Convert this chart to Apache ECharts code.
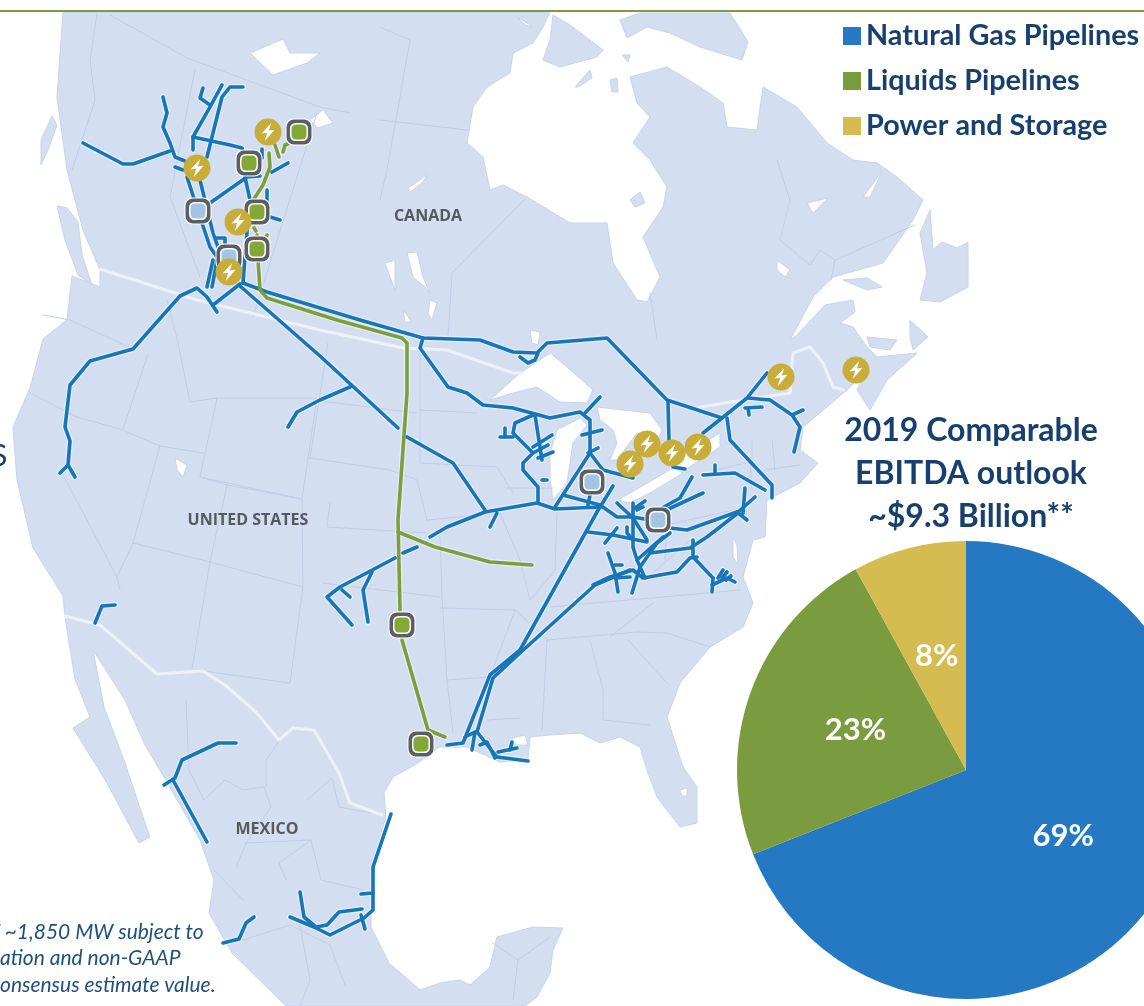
<!DOCTYPE html>
<html>
<head>
<meta charset="utf-8">
<title>Pipelines map</title>
<script src="https://cdn.jsdelivr.net/npm/echarts@6/dist/echarts.min.js"></script>
<style>
html,body{margin:0;padding:0;background:#fff;}
#main{width:1144px;height:1006px;}
</style>
</head>
<body>
<div id="main"></div>
<script>
// pie
var segmentNames = ['Natural Gas Pipelines', 'Liquids Pipelines', 'Power and Storage'];
var segmentValues = [69, 23, 8];
var titleLines = ['2019 Comparable', 'EBITDA outlook', '~$9.3 Billion**'];

// map shapes in picture pixels
var landShapes = [
  // mainland
  [[63,12],[550,12],[543,27],[533,43],[513,53],[510,73],[487,87],[473,107],[467,143],[483,157],[490,190],[503,185],[527,197],[570,223],[607,223],[613,263],[637,300],[647,302],[660,277],[643,237],[663,207],[667,187],[650,160],[633,143],[650,117],[637,103],[630,77],[667,67],[700,87],[723,103],[727,127],[757,130],[763,87],[797,107],[827,143],[853,160],[877,163],[897,177],[923,200],[913,220],[897,243],[883,263],[833,277],[813,297],[790,340],[797,335],[825,305],[853,300],[855,312],[840,323],[853,327],[867,347],[877,357],[917,353],[887,380],[870,410],[857,390],[867,370],[847,390],[803,427],[800,450],[818,463],[800,483],[767,500],[765,537],[753,540],[743,577],[753,603],[743,627],[710,647],[680,683],[667,717],[683,767],[697,787],[697,823],[680,827],[657,797],[647,770],[640,747],[620,737],[600,743],[580,733],[550,735],[530,737],[528,760],[500,762],[467,747],[439,747],[418,763],[393,777],[384,793],[386,817],[371,867],[371,927],[389,963],[420,990],[440,983],[460,980],[470,985],[490,967],[497,937],[533,927],[563,928],[553,950],[550,973],[537,997],[525,1006],[286,1006],[232,953],[209,913],[214,880],[200,840],[164,777],[145,745],[125,700],[93,650],[104,707],[125,763],[143,817],[150,837],[139,843],[107,783],[73,728],[90,717],[75,679],[67,630],[65,616],[63,596],[33,548],[17,480],[13,427],[30,388],[43,339],[67,320],[72,276],[100,287],[100,270],[83,230],[67,170],[57,97]],
  // Vancouver Island, Haida Gwaii
  [[57,206],[67,208],[78,222],[82,255],[92,285],[78,275],[65,240]],
  [[52,116],[57,125],[48,150],[41,165],[41,140]],
  // Baffin, Southampton and small Hudson Bay islands
  [[620,20],[640,13],[730,13],[748,42],[742,60],[700,47],[670,33],[647,27],[627,38]],
  [[553,15],[570,25],[603,50],[597,57],[560,67],[543,60],[550,40]],
  [[575,87],[590,70],[592,78],[578,87]],
  [[610,80],[617,78],[618,92],[612,92]],
  [[622,55],[630,55],[628,62]],
  [[630,200],[640,192],[645,203],[635,207]],
  // Newfoundland, Anticosti, Cape Breton, PEI
  [[930,210],[920,233],[927,273],[920,300],[940,302],[968,287],[968,242],[957,248],[942,242],[933,250]],
  [[843,280],[867,278],[882,287],[867,290]],
  [[910,320],[928,337],[913,350],[910,337]],
  [[867,337],[897,340],[890,350],[870,347]]
];
var waterShapes = [
  // Superior, Michigan, Huron, Erie, Ontario
  [[490,400],[520,373],[550,353],[567,367],[593,390],[587,403],[560,402],[537,387],[513,393]],
  [[557,430],[580,418],[587,425],[573,443],[567,483],[553,500],[550,480],[550,453]],
  [[597,407],[650,413],[662,430],[657,443],[637,433],[617,460],[610,460],[617,443],[613,430],[600,420]],
  [[618,500],[673,468],[683,473],[650,493],[630,503]],
  [[672,465],[690,450],[720,433],[720,447],[700,460],[685,470]],
  // Canadian lakes
  [[407,253],[417,252],[423,277],[430,293],[425,287],[413,277]],
  [[385,263],[395,260],[395,290],[390,277]],
  [[430,300],[437,303],[432,320],[428,313]],
  [[403,310],[412,322],[405,322]],
  [[408,188],[427,175],[423,182],[410,192]],
  [[530,330],[540,332],[538,345],[532,343]],
  [[250,53],[283,39],[290,53],[320,53],[307,63],[273,75]],
  [[310,120],[323,110],[333,123],[318,128]],
  [[517,17],[527,23],[533,27],[525,25]],
  [[777,260],[790,270],[785,277],[777,270]],
  [[807,203],[828,198],[813,213]],
  [[863,197],[883,170],[870,197]],
  // Great Salt Lake, Okeechobee, Chesapeake, Pontchartrain
  [[175,458],[187,465],[183,477],[177,470]],
  [[680,790],[687,788],[687,796],[682,796]],
  [[733,537],[737,545],[738,565],[733,557]],
  [[512,738],[525,735],[528,745],[516,745]]
];
var boundaryLines = [
  [[110,15],[187,58],[320,107],[350,113]],[[380,27],[410,40],[387,170],[380,200]],[[380,120],[467,130]],
  [[97,14],[90,60],[95,100],[72,170]],[[448,337],[452,273],[527,197]],[[650,293],[657,340]],
  [[317,113],[253,317]],[[170,197],[200,277]],[[195,70],[170,197]],
  [[831,280],[835,260],[915,225]],[[777,160],[790,200],[780,240],[810,265],[820,250],[835,260]],
  [[43,315],[70,320],[133,349]],[[30,393],[77,417],[120,429],[160,446],[203,453]],[[148,354],[123,429]],
  [[167,300],[177,339],[183,368],[190,402],[217,398]],[[217,398],[200,477],[302,499],[317,398],[217,398]],
  [[160,446],[133,543]],[[200,477],[227,485],[210,562],[133,543]],[[63,475],[117,577],[120,590]],
  [[133,543],[117,577]],[[210,562],[192,669]],[[210,562],[303,587],[290,683],[203,671]],[[227,485],[302,499],[303,587]],
  [[328,343],[310,458]],[[313,400],[417,413]],[[310,458],[390,470],[417,480],[427,520]],[[330,503],[327,527],[427,533]],
  [[322,583],[440,597]],[[440,537],[442,597]],[[420,340],[420,410],[477,413]],[[420,410],[420,463],[497,467],[513,493]],
  [[427,520],[500,513]],[[507,488],[553,488]],[[557,513],[555,570],[530,600]],[[440,608],[515,610]],[[550,607],[740,590]],
  [[547,640],[542,730]],[[590,640],[603,690],[603,720],[650,725]],[[547,640],[637,632]],[[628,640],[667,683]],[[637,632],[667,633],[710,647]],
  [[610,637],[653,603]],[[447,680],[490,677]],[[515,610],[490,677]],[[447,680],[453,733]],[[487,720],[520,718]],
  [[442,597],[447,680]],[[500,513],[520,560],[530,600]],[[515,610],[548,640]],
  [[668,500],[665,560]],[[665,525],[735,510]],[[715,470],[750,462],[752,490]],[[752,440],[752,462]],[[772,440],[775,470]],[[765,470],[800,465]],[[645,580],[690,540]],
  [[186,700],[189,770],[204,800]],[[204,800],[225,780],[243,790],[264,787],[271,807],[246,843],[236,867]],
  [[282,737],[266,760],[266,787]],[[307,800],[332,778],[339,807],[371,813]],[[246,843],[311,840],[279,863],[286,880]],
  [[311,840],[321,880],[364,890]],[[214,870],[243,900]],[[243,940],[290,925],[330,945],[345,985]],[[300,925],[310,980],[300,1006]],
  [[493,943],[518,960],[550,937]],[[518,960],[513,1000]]
];
var borderLines = [
  [[100,269],[197,300],[320,330],[403,348],[447,350],[513,373],[522,373]],
  [[700,407],[743,400],[790,393],[793,353],[810,347],[823,363],[833,387],[843,390]],
  [[65,616],[100,625],[157,674],[203,671],[225,685],[257,713],[279,740],[293,728],[314,730],[339,773],[350,803],[382,815]]
];

// pipelines
var gasLines = [
  [[83,143],[123,164],[133,164],[170,151]],
  [[163,97],[167,113],[163,127],[170,143],[175,157],[185,161]],
  [[175,167],[183,170]],
  [[222,85],[210,107],[193,137],[193,150]],
  [[243,87],[230,87],[222,97],[207,157]],
  [[203,88],[200,98],[210,105]],
  [[193,137],[230,145],[242,148],[245,157]],
  [[187,177],[200,217],[210,247],[217,257]],
  [[200,180],[213,233],[220,253]],
  [[210,203],[247,177],[260,176]],
  [[245,177],[250,200]],
  [[272,172],[288,163]],
  [[262,149],[262,158]],
  [[267,190],[267,203]],
  [[270,217],[280,220]],
  [[248,220],[245,257],[243,283]],
  [[243,283],[267,292],[360,320],[423,338],[480,340],[513,352],[537,353],[547,343],[607,338],[667,400],[722,418],[747,398],[767,373]],
  [[520,357],[528,363],[535,360],[538,353]],
  [[240,286],[320,356],[398,428]],
  [[407,437],[453,463],[485,510]],
  [[288,427],[297,412],[320,400],[350,387]],
  [[240,284],[213,305]],
  [[217,312],[207,297],[197,288],[180,296],[133,349],[90,361],[70,385],[65,427],[70,441],[68,465]],
  [[60,473],[68,465],[75,477]],
  [[213,260],[207,287]],
  [[217,260],[212,287]],
  [[217,238],[225,238],[225,250]],
  [[95,623],[102,606],[115,605]],
  [[423,338],[420,348],[448,387],[467,393],[483,405],[513,408],[550,418],[580,412],[590,420],[590,453],[603,470],[633,478]],
  [[585,413],[600,397]],
  [[582,435],[602,430]],
  [[588,453],[598,448]],
  [[590,453],[555,507]],
  [[533,415],[515,423],[513,433],[533,453],[523,463],[523,470],[538,487],[538,503]],
  [[535,415],[542,460]],
  [[533,447],[552,435]],
  [[533,453],[548,445]],
  [[538,458],[553,452]],
  [[500,437],[513,437]],
  [[505,428],[505,437]],
  [[542,480],[547,480]],
  [[430,537],[447,527],[485,512],[537,503],[555,509],[600,507]],
  [[395,558],[340,587],[327,597],[352,625]],
  [[403,553],[417,547]],
  [[342,590],[350,597]],
  [[372,572],[363,590],[368,622]],
  [[497,513],[490,527]],
  [[563,495],[600,505],[617,517],[633,517],[650,520]],
  [[613,486],[597,512],[520,650],[490,675],[463,743],[447,745]],
  [[630,570],[595,585],[520,653],[493,678],[477,732],[497,757],[528,761]],
  [[465,737],[475,732],[472,750]],
  [[480,745],[487,742],[495,758]],
  [[498,752],[517,748]],
  [[512,742],[510,750]],
  [[617,503],[633,518],[647,540]],
  [[633,503],[633,547],[637,560],[645,578]],
  [[635,508],[645,501]],
  [[637,510],[643,507]],
  [[588,532],[613,535],[647,542]],
  [[605,543],[617,528]],
  [[627,527],[627,533],[633,540]],
  [[608,553],[615,573],[618,592]],
  [[615,565],[622,565]],
  [[615,578],[630,577]],
  [[593,585],[610,577],[633,570],[643,578],[677,572],[690,558],[697,557]],
  [[693,540],[693,557],[713,578]],
  [[632,593],[640,567],[657,543],[670,533]],
  [[637,560],[663,537]],
  [[650,553],[690,548],[707,537],[738,513]],
  [[670,528],[687,530],[737,512]],
  [[662,512],[703,493]],
  [[662,508],[680,498],[692,477]],
  [[737,512],[747,520]],
  [[745,488],[743,513]],
  [[755,497],[737,513]],
  [[713,578],[712,592]],
  [[712,585],[727,578],[735,582]],
  [[723,570],[718,578]],
  [[727,572],[722,578]],
  [[731,576],[726,580]],
  [[703,475],[735,473],[765,490]],
  [[715,465],[715,473]],
  [[668,402],[669,440]],
  [[727,418],[730,440],[772,485],[772,498]],
  [[703,433],[722,418]],
  [[748,398],[770,400],[792,415],[800,427],[794,452]],
  [[792,415],[803,410]],
  [[745,408],[762,407]],
  [[748,408],[749,415]],
  [[673,467],[685,469]],
  [[590,495],[588,505]],
  [[164,785],[175,778],[182,760],[218,743],[236,743]],
  [[173,780],[207,842]],
  [[223,943],[239,939],[246,923],[254,917]],
  [[391,814],[373,867],[373,910],[364,918],[330,935],[314,927],[290,917]],
  [[300,892],[304,917],[316,927],[327,925],[339,912],[362,909]],
  [[361,894],[373,893]],
  [[361,915],[365,929]]
];
var liquidsLines = [
  [[258,260],[260,290],[267,298],[337,320],[402,338],[407,343],[407,393],[398,520],[400,610]],
  [[398,532],[435,547],[490,562],[532,565]],
  [[402,640],[428,730],[445,737]],
  [[269,153],[270,167],[263,185],[252,202]],
  [[275,145],[279,157]],
  [[283,152],[285,145],[292,142]],
  [[254,228],[256,231]],
  [[257,235],[258,240]],
  [[267,235],[265,240]]
];

// sites
var powerSites = [[268,132],[197,168],[238,222],[229,272],[630,464],[647,444],[672,453],[698,447],[781,377],[856,370]];
var liquidsSites = [[299,132],[249,163],[257,212],[257,249],[402,625],[421,744]];
var gasSites = [[198,211],[229,257],[592,482],[658,520]];

var placeLabels = [['CANADA',428,216],['UNITED STATES',248,520],['MEXICO',267,829]];
var footnoteLines = ['f ~1,850 MW subject to', 'ation and non-GAAP', 'onsensus estimate value.'];

var blue = '#2479c2', green = '#7a9c3e', yellow = '#d5bc50', ink = '#17406f';
var pipeBlue = '#1676b8', pipeGreen = '#7b9f3a';
var boltPath = 'path://M15 0 L3 14 L10 13 L7 24 L19 9 L12 10 Z';
var boxPath = 'path://M6 0H14A6 6 0 0 1 20 6V14A6 6 0 0 1 14 20H6A6 6 0 0 1 0 14V6A6 6 0 0 1 6 0Z';

function polygons(shapes, fill, stroke, z) {
  return {
    type: 'custom',
    coordinateSystem: 'cartesian2d',
    silent: true,
    z: z,
    data: shapes.map(function (s, i) { return [i, i]; }),
    renderItem: function (params, api) {
      return {
        type: 'polygon',
        shape: {points: shapes[params.dataIndex].map(function (p) { return api.coord(p); })},
        style: {fill: fill, stroke: stroke, lineWidth: 1}
      };
    }
  };
}

function paths(list, color, width, z) {
  return {
    type: 'lines',
    coordinateSystem: 'cartesian2d',
    polyline: true,
    silent: true,
    z: z,
    lineStyle: {color: color, width: width, opacity: 1, cap: 'round', join: 'round'},
    data: list.map(function (l) { return {coords: l}; })
  };
}

function sites(list, symbol, size, color, z) {
  return {
    type: 'scatter',
    coordinateSystem: 'cartesian2d',
    silent: true,
    symbol: symbol,
    symbolSize: size,
    z: z,
    itemStyle: {color: color, opacity: 1},
    data: list
  };
}

var chart = echarts.init(document.getElementById('main'));
var textItems = placeLabels.map(function (p) {
  return {type: 'text', x: p[1], y: p[2], z: 50, style: {text: p[0], fill: '#55585c', font: 'bold 16px "Open Sans"', align: 'center', verticalAlign: 'middle'}};
});
footnoteLines.forEach(function (t, i) {
  textItems.push({type: 'text', x: [-7, 0, 0][i], y: 932 + i * 26.5, z: 50, style: {text: t, fill: '#1d4f80', font: 'italic 21px Lato', verticalAlign: 'middle'}});
});
textItems.push({type: 'text', x: -9, y: 456, z: 50, style: {text: 'S', fill: ink, font: '30px Lato', verticalAlign: 'middle'}});
textItems.push({type: 'rect', shape: {x: 0, y: 10, width: 1144, height: 2}, z: 50, style: {fill: '#7a9c3e'}});

chart.setOption({
  animation: false,
  backgroundColor: '#fff',
  title: {
    text: titleLines.join('\n'),
    left: 966,
    top: 404,
    textAlign: 'center',
    textStyle: {color: ink, fontFamily: 'Lato', fontWeight: 'bold', fontSize: 32, lineHeight: 43}
  },
  legend: {
    data: segmentNames,
    orient: 'vertical',
    left: 838,
    top: 16,
    itemWidth: 18,
    itemHeight: 18,
    itemGap: 15,
    icon: 'rect',
    selectedMode: false,
    textStyle: {color: ink, fontFamily: 'Lato', fontWeight: 'bold', fontSize: 28.8, lineHeight: 30}
  },
  grid: {left: 0, right: 0, top: 0, bottom: 0},
  xAxis: {type: 'value', min: 0, max: 1144, show: false},
  yAxis: {type: 'value', min: 0, max: 1006, inverse: true, show: false},
  graphic: textItems,
  series: [
    polygons(landShapes, '#d3dff1', '#c6d4ec', 1),
    polygons(waterShapes, '#ffffff', '#c6d4ec', 2),
    paths(boundaryLines, '#c0cee7', 1, 3),
    paths(borderLines, '#edf2fa', 3, 3),
    paths(gasLines, 'rgba(255,255,255,0.45)', 6, 4),
    paths(liquidsLines, 'rgba(255,255,255,0.45)', 6, 4),
    paths(gasLines, pipeBlue, 3.6, 5),
    paths(liquidsLines, pipeGreen, 3.6, 5),
    sites(gasSites.concat(liquidsSites), boxPath, 27, '#ffffff', 6),
    sites(gasSites.concat(liquidsSites), boxPath, 25, '#5a5f66', 6),
    sites(gasSites.concat(liquidsSites), boxPath, 18, '#ffffff', 6),
    sites(gasSites, boxPath, 15, '#a4c4e4', 6),
    sites(liquidsSites, boxPath, 15, '#84a836', 6),
    sites(powerSites, 'circle', 27, '#c9ad3a', 7),
    sites(powerSites, boltPath, [13, 18], '#ffffff', 8),
    {
      type: 'pie',
      center: [966, 770],
      radius: [0, 229],
      z: 20,
      silent: true,
      label: {position: 'inside', color: '#fff', fontFamily: 'Lato', fontWeight: 'bold', fontSize: 31, formatter: '{c}%'},
      labelLine: {show: false},
      data: segmentNames.map(function (n, i) {
        return {name: n, value: segmentValues[i], itemStyle: {color: [blue, green, yellow][i]}};
      })
    }
  ]
});
</script>
</body>
</html>
